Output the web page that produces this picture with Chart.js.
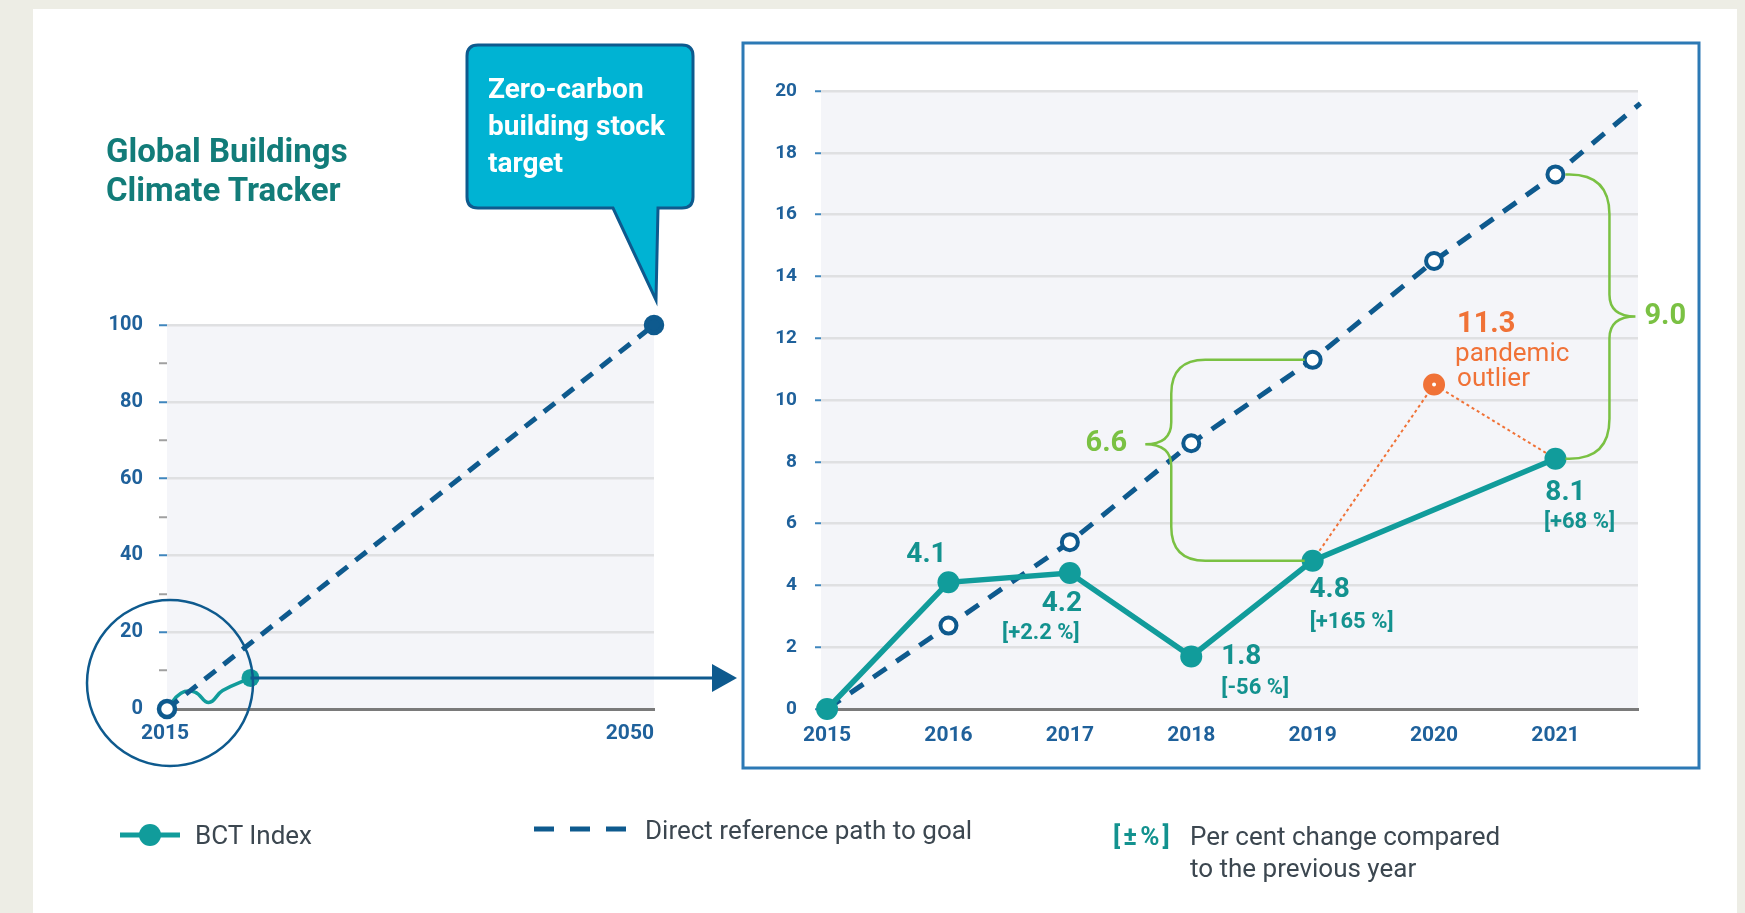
<!DOCTYPE html>
<html>
<head>
<meta charset="utf-8">
<script src="https://cdn.jsdelivr.net/npm/chart.js@4.4.0/dist/chart.umd.min.js"></script>
<style>
  html, body { margin: 0; padding: 0; background: #edede5; width: 1745px; height: 913px; overflow: hidden; }
  #page { position: absolute; left: 33px; top: 9px; width: 1704px; height: 904px; background: #fff; }
  canvas { position: absolute; left: 0; top: 0; }
  .t { position: absolute; white-space: nowrap; font-family: Roboto, sans-serif; }
</style>
</head>
<body>
<div id="page"></div>
<canvas id="longChart" width="1745" height="913" style="width:1745px;height:913px"></canvas>
<canvas id="trackerChart" width="1745" height="913" style="width:1745px;height:913px"></canvas>

<div class="t" style="left:106px;top:131px;font-weight:bold;font-size:33px;line-height:39px;color:#127c79">Global Buildings<br>Climate Tracker</div>
<div class="t" style="left:488px;top:70px;font-weight:bold;font-size:28px;line-height:37px;color:#fff">Zero-carbon<br>building stock<br>target</div>

<div class="t" style="left:195px;top:820px;font-size:26px;line-height:30px;color:#3c4750">BCT Index</div>
<div class="t" style="left:645px;top:815px;font-size:26px;line-height:30px;color:#3c4750">Direct reference path to goal</div>
<div class="t" style="left:1113px;top:821px;font-weight:bold;font-size:26px;line-height:30px;letter-spacing:3px;color:#13928f">[±%]</div>
<div class="t" style="left:1190px;top:820px;font-size:26px;line-height:32px;color:#3c4750">Per cent change compared<br>to the previous year</div>

<script>
// tracker data, 2015-2021
let years = [2015, 2016, 2017, 2018, 2019, 2020, 2021];
let bctIndex = [0, 4.1, 4.4, 1.7, 4.8, null, 8.1];
let bctLabels = ['', '4.1', '4.2', '1.8', '4.8', '', '8.1'];
let bctChange = ['', '', '[+2.2 %]', '[-56 %]', '[+165 %]', '', '[+68 %]'];
let referencePath = [0, 2.7, 5.4, 8.6, 11.3, 14.5, 17.3];
let referenceEndYear = 2021.7;
let referenceEndValue = 19.6;

let outlierYears = [2019, 2020, 2021];
let outlierValues = [4.8, 10.5, 8.1];
let outlierLabel = '11.3';

let gapYears = [2019, 2021];
let gapLabels = ['6.6', '9.0'];

// long view to 2050
let longYears = [2015, 2050];
let longReference = [0, 100];

const TEAL = '#119c9b';
const TEAL_TXT = '#13928f';
const NAVY = '#0e5a8e';
const AXIS_TXT = '#1f619b';
const GREEN = '#7ac143';
const ORANGE = '#f07237';
const CYAN = '#00b3d3';
const GRID = '#dfe0e2';
const PLOT_BG = '#f4f5f9';
const FONT = 'Roboto, sans-serif';

Chart.defaults.font.family = FONT;

let plotBackground = {
  id: 'plotBackground',
  beforeDraw(chart) {
    const a = chart.chartArea, ctx = chart.ctx;
    ctx.save();
    ctx.fillStyle = PLOT_BG;
    ctx.fillRect(a.left, a.top, a.right - a.left, a.bottom - a.top);
    ctx.restore();
  }
};

function brace(ctx, x0, y1, y2, spineX, tipX, tipY, r, rt) {
  const d = Math.sign(x0 - spineX);
  ctx.beginPath();
  ctx.moveTo(x0, y1);
  ctx.lineTo(spineX + d * r, y1);
  ctx.quadraticCurveTo(spineX, y1, spineX, y1 + r);
  ctx.lineTo(spineX, tipY - rt);
  ctx.quadraticCurveTo(spineX, tipY, tipX, tipY);
  ctx.quadraticCurveTo(spineX, tipY, spineX, tipY + rt);
  ctx.lineTo(spineX, y2 - r);
  ctx.quadraticCurveTo(spineX, y2, spineX + d * r, y2);
  ctx.lineTo(x0, y2);
  ctx.stroke();
}

// ---- left: long view to 2050 ----
let longExtras = {
  id: 'longExtras',
  afterDraw(chart) {
    const ctx = chart.ctx, x = chart.scales.x, y = chart.scales.y;
    ctx.save();

    // year labels under the axis
    ctx.font = 'bold 21px ' + FONT;
    ctx.fillStyle = AXIS_TXT;
    ctx.textBaseline = 'middle';
    ctx.textAlign = 'center';
    ctx.fillText(String(longYears[0]), x.getPixelForValue(longYears[0]) - 2, chart.chartArea.bottom + 25);
    ctx.textAlign = 'right';
    ctx.fillText(String(longYears[1]), x.getPixelForValue(longYears[1]), chart.chartArea.bottom + 25);

    // circle round the start
    const ox = x.getPixelForValue(2015), oy = y.getPixelForValue(0);
    ctx.strokeStyle = NAVY;
    ctx.lineWidth = 2.5;
    ctx.beginPath();
    ctx.arc(ox + 3, oy - 26, 83, 0, Math.PI * 2);
    ctx.stroke();

    // arrow from the latest value to the zoomed panel
    const last = chart.getDatasetMeta(0).data[years.length - 1];
    const tipX = 737;
    ctx.lineWidth = 3;
    ctx.beginPath();
    ctx.moveTo(last.x, last.y);
    ctx.lineTo(tipX - 20, last.y);
    ctx.stroke();
    ctx.fillStyle = NAVY;
    ctx.beginPath();
    ctx.moveTo(tipX, last.y);
    ctx.lineTo(tipX - 25, last.y - 14);
    ctx.lineTo(tipX - 25, last.y + 14);
    ctx.closePath();
    ctx.fill();

    // callout box
    const bx0 = 467, by0 = 45, bx1 = 693, by1 = 208, r = 11;
    ctx.beginPath();
    ctx.moveTo(bx0 + r, by0);
    ctx.lineTo(bx1 - r, by0);
    ctx.quadraticCurveTo(bx1, by0, bx1, by0 + r);
    ctx.lineTo(bx1, by1 - r);
    ctx.quadraticCurveTo(bx1, by1, bx1 - r, by1);
    ctx.lineTo(658, by1);
    ctx.lineTo(656, 300);
    ctx.lineTo(613, by1);
    ctx.lineTo(bx0 + r, by1);
    ctx.quadraticCurveTo(bx0, by1, bx0, by1 - r);
    ctx.lineTo(bx0, by0 + r);
    ctx.quadraticCurveTo(bx0, by0, bx0 + r, by0);
    ctx.closePath();
    ctx.fillStyle = CYAN;
    ctx.fill();
    ctx.strokeStyle = NAVY;
    ctx.lineWidth = 3;
    ctx.stroke();

    // legend markers
    ctx.strokeStyle = TEAL;
    ctx.lineWidth = 5;
    ctx.beginPath();
    ctx.moveTo(120, 835);
    ctx.lineTo(180, 835);
    ctx.stroke();
    ctx.fillStyle = TEAL;
    ctx.beginPath();
    ctx.arc(150, 835, 11, 0, Math.PI * 2);
    ctx.fill();
    ctx.strokeStyle = NAVY;
    ctx.setLineDash([20, 16]);
    ctx.beginPath();
    ctx.moveTo(534, 829);
    ctx.lineTo(627, 829);
    ctx.stroke();
    ctx.setLineDash([]);

    ctx.restore();
  }
};

new Chart(document.getElementById('longChart'), {
  type: 'line',
  data: {
    datasets: [
      {
        label: 'BCT Index',
        data: years.map((yr, i) => ({ x: yr, y: bctIndex[i] })),
        borderColor: TEAL,
        backgroundColor: TEAL,
        borderWidth: 3.5,
        tension: 0.45,
        spanGaps: true,
        pointRadius: ctx => ctx.dataIndex === years.length - 1 ? 9 : 0,
        pointBorderWidth: 0,
        clip: false,
        order: 1
      },
      {
        label: 'Direct reference path to goal',
        data: longYears.map((yr, i) => ({ x: yr, y: longReference[i] })),
        borderColor: NAVY,
        borderWidth: 5,
        borderDash: [14, 10],
        pointRadius: 8,
        pointBackgroundColor: ctx => ctx.dataIndex === 0 ? '#fff' : NAVY,
        pointBorderColor: NAVY,
        pointBorderWidth: 4.5,
        clip: false,
        order: 0
      }
    ]
  },
  options: {
    responsive: false,
    devicePixelRatio: 1,
    animation: false,
    events: [],
    layout: { padding: { left: 107, right: 1091, top: 325, bottom: 164 } },
    plugins: { legend: { display: false }, tooltip: { enabled: false } },
    scales: {
      x: {
        type: 'linear',
        min: longYears[0],
        max: longYears[1],
        ticks: { display: false },
        grid: { display: false, drawTicks: false },
        border: { display: true, color: '#7a7a7a', width: 3 },
        afterFit: s => { s.height = 40; }
      },
      y: {
        min: 0,
        max: 100,
        ticks: {
          stepSize: 10,
          color: AXIS_TXT,
          font: { size: 20, weight: 'bold' },
          padding: 16,
          callback: v => v % 20 === 0 ? String(v) : ''
        },
        grid: {
          color: ctx => ctx.tick && ctx.tick.value % 20 === 0 ? GRID : 'rgba(0,0,0,0)',
          lineWidth: 2.5,
          tickLength: 8,
          tickWidth: 2,
          tickColor: ctx => ctx.tick && ctx.tick.value % 20 === 0 ? '#3f86bd' : '#a0a0a0'
        },
        border: { display: false },
        afterFit: s => { s.width = 60; }
      }
    }
  },
  plugins: [plotBackground, longExtras]
});

// ---- right: 2015-2021 tracker ----
let valueOffsets = [null, [-22, -27], [-8, 31], [50, 1], [17, 29], null, [10, 34]];
let changeOffsets = [null, null, [-29, 60], [64, 32], [39, 62], null, [24, 64]];

let trackerExtras = {
  id: 'trackerExtras',
  beforeDraw(chart) {
    const ctx = chart.ctx;
    ctx.save();
    ctx.strokeStyle = '#2c79b5';
    ctx.lineWidth = 3;
    ctx.strokeRect(743, 43, 956, 725);
    ctx.restore();
  },
  afterDraw(chart) {
    const ctx = chart.ctx, x = chart.scales.x, y = chart.scales.y;
    ctx.save();
    ctx.textBaseline = 'middle';

    // values and yearly change
    years.forEach((yr, i) => {
      if (!bctLabels[i]) return;
      const px = x.getPixelForValue(yr), py = y.getPixelForValue(bctIndex[i]);
      ctx.fillStyle = TEAL_TXT;
      ctx.textAlign = 'center';
      ctx.font = 'bold 28px ' + FONT;
      ctx.fillText(bctLabels[i], px + valueOffsets[i][0], py + valueOffsets[i][1]);
      if (bctChange[i]) {
        ctx.font = 'bold 22px ' + FONT;
        ctx.fillText(bctChange[i], px + changeOffsets[i][0], py + changeOffsets[i][1]);
      }
    });

    // pandemic outlier label
    const ox = x.getPixelForValue(outlierYears[1]), oy = y.getPixelForValue(outlierValues[1]);
    ctx.fillStyle = ORANGE;
    ctx.textAlign = 'left';
    ctx.font = 'bold 29px ' + FONT;
    ctx.fillText(outlierLabel, ox + 23, oy - 60);
    ctx.font = '26px ' + FONT;
    ctx.fillText('pandemic', ox + 21, oy - 30);
    ctx.fillText('outlier', ox + 23, oy - 5);

    // gap braces
    ctx.strokeStyle = GREEN;
    ctx.fillStyle = GREEN;
    ctx.lineWidth = 2.5;
    ctx.font = 'bold 29px ' + FONT;

    let gx = x.getPixelForValue(gapYears[0]);
    let top = y.getPixelForValue(referencePath[years.indexOf(gapYears[0])]);
    let bot = y.getPixelForValue(bctIndex[years.indexOf(gapYears[0])]);
    let spine = x.getPixelForValue(2018) - 20;
    let tipY = top + (bot - top) * 0.42;
    brace(ctx, gx - 8, top, bot, spine, spine - 26, tipY, 34, 22);
    ctx.textAlign = 'right';
    ctx.fillText(gapLabels[0], spine - 44, tipY);

    gx = x.getPixelForValue(gapYears[1]);
    top = y.getPixelForValue(referencePath[years.indexOf(gapYears[1])]);
    bot = y.getPixelForValue(bctIndex[years.indexOf(gapYears[1])]);
    spine = gx + 54;
    tipY = (top + bot) / 2;
    brace(ctx, gx + 10, top, bot, spine, spine + 26, tipY, 40, 22);
    ctx.textAlign = 'left';
    ctx.fillText(gapLabels[1], spine + 35, tipY);

    ctx.restore();
  }
};

new Chart(document.getElementById('trackerChart'), {
  type: 'line',
  data: {
    datasets: [
      {
        label: 'BCT Index',
        data: years.map((yr, i) => ({ x: yr, y: bctIndex[i] })),
        borderColor: TEAL,
        backgroundColor: TEAL,
        borderWidth: 5.5,
        spanGaps: true,
        pointRadius: 11,
        pointBackgroundColor: TEAL,
        pointBorderWidth: 0,
        clip: false,
        order: 0
      },
      {
        label: 'Direct reference path to goal',
        data: years.map((yr, i) => ({ x: yr, y: referencePath[i] }))
          .concat([{ x: referenceEndYear, y: referenceEndValue }]),
        borderColor: NAVY,
        borderWidth: 5,
        borderDash: [16, 12],
        pointRadius: ctx => (ctx.dataIndex === 0 || ctx.dataIndex === years.length) ? 0 : 8,
        pointBackgroundColor: '#fff',
        pointBorderColor: NAVY,
        pointBorderWidth: 4,
        clip: false,
        order: 1
      },
      {
        label: 'pandemic outlier',
        data: outlierYears.map((yr, i) => ({ x: yr, y: outlierValues[i] })),
        borderColor: ORANGE,
        borderWidth: 2,
        borderDash: [3, 3],
        pointRadius: ctx => ctx.dataIndex === 1 ? 6.5 : 0,
        pointBackgroundColor: '#fff',
        pointBorderColor: ORANGE,
        pointBorderWidth: 9,
        clip: false,
        order: 2
      }
    ]
  },
  options: {
    responsive: false,
    devicePixelRatio: 1,
    animation: false,
    events: [],
    layout: { padding: { left: 761, right: 107, top: 91, bottom: 164 } },
    plugins: { legend: { display: false }, tooltip: { enabled: false } },
    scales: {
      x: {
        type: 'linear',
        min: 2014.95,
        max: 2021.68,
        afterBuildTicks: s => { s.ticks = years.map(v => ({ value: v })); },
        ticks: {
          color: AXIS_TXT,
          font: { size: 21, weight: 'bold' },
          padding: 14,
          callback: v => String(v)
        },
        grid: { display: false, drawTicks: false },
        border: { display: true, color: '#7a7a7a', width: 3 },
        afterFit: s => { s.height = 40; }
      },
      y: {
        min: 0,
        max: 20,
        ticks: {
          stepSize: 2,
          color: AXIS_TXT,
          font: { size: 19, weight: 'bold' },
          padding: 18
        },
        grid: {
          color: GRID,
          lineWidth: 2.5,
          tickLength: 6,
          tickWidth: 2,
          tickColor: '#3f86bd'
        },
        border: { display: false },
        afterFit: s => { s.width = 60; }
      }
    }
  },
  plugins: [plotBackground, trackerExtras]
});
</script>
</body>
</html>
